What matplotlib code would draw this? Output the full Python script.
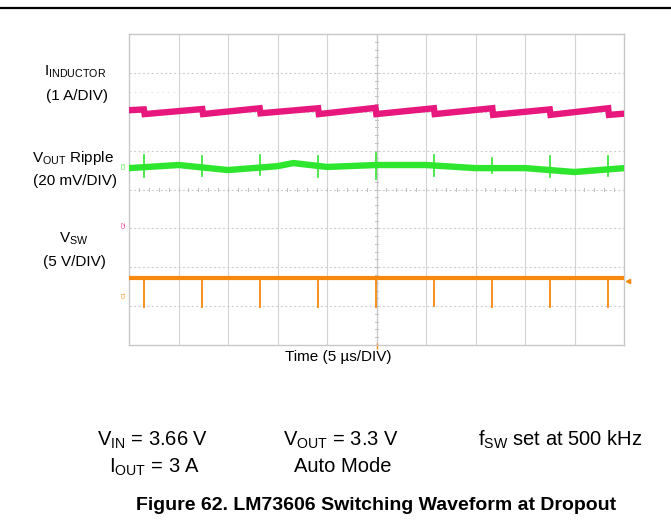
import numpy as np
import matplotlib
matplotlib.use('Agg')
import matplotlib.pyplot as plt

plt.rcParams['font.family'] = ['Liberation Sans', 'DejaVu Sans']
plt.rcParams['mathtext.fontset'] = 'custom'
plt.rcParams['mathtext.rm'] = 'Liberation Sans'
plt.rcParams['mathtext.it'] = 'Liberation Sans'
plt.rcParams['mathtext.bf'] = 'Liberation Sans:bold'

# time axis in us (5 us/div, 10 div), vertical in divisions (8 div)
switch_t = [1.5, 7.4, 13.2, 19.1, 24.9, 30.8, 36.7, 42.5, 48.4]

# inductor current (pink), level just before / after each switching edge
pink_start = 6.04
pink_before = [6.06, 6.07, 6.09, 6.09, 6.10, 6.09, 6.09, 6.06, 6.09]
pink_after = [5.94, 5.94, 5.96, 5.94, 5.94, 5.94, 5.92, 5.92, 5.92]
pink_end = 5.95

# output ripple (green)
green_t = [0, 5, 10, 15, 16.6, 20, 25, 30, 35, 40, 45, 50]
green_v = [4.55, 4.63, 4.50, 4.60, 4.68, 4.58, 4.63, 4.63, 4.55, 4.55, 4.45, 4.55]
green_spike_top = [4.88, 4.86, 4.88, 4.85, 4.93, 4.90, 4.80, 4.86, 4.85]
green_spike_bot = [4.32, 4.35, 4.38, 4.32, 4.28, 4.35, 4.42, 4.32, 4.36]

# switch node (orange)
vsw_level = 1.72
vsw_spike_bot = [0.98, 0.99, 0.98, 0.99, 0.97, 1.00, 0.99, 0.98, 0.99]

pink = '#E8177D'
green = '#2EE62E'
orange = '#F7880E'
W, H = 671, 529

fig = plt.figure(figsize=(W / 100, H / 100), dpi=100)
ax = fig.add_axes([129 / W, 1 - 345 / H, 495 / W, 311 / H])
ax.set_xlim(0, 50)
ax.set_ylim(0, 8)
ax.set_xticks([])
ax.set_yticks([])
for s in ax.spines.values():
    s.set_color('#c8c8c8')
    s.set_linewidth(1.0)

# graticule
for x in range(5, 50, 5):
    ax.axvline(x, color='#d4d4d4', lw=0.8, zorder=1)
for y in range(1, 8):
    ax.axhline(y, color='#d0d0d0', lw=0.8, ls=(0, (2, 2)), zorder=1)
ax.axhline(6.51, color='#dddddd', lw=0.8, ls=(0, (1, 4)), zorder=1)
for x in np.arange(0, 50.01, 1.0):
    ax.plot([x, x], [3.95, 4.05], color='#c0c0c0', lw=0.7, zorder=1)
for y in np.arange(0, 8.01, 0.2):
    ax.plot([24.8, 25.2], [y, y], color='#c0c0c0', lw=0.7, zorder=1)
ax.axvline(25, color='#c8c8c8', lw=0.9, zorder=1)

# inductor current
px = [0]
py = [pink_start]
for t, b, a in zip(switch_t, pink_before, pink_after):
    px += [t, t + 0.08]
    py += [b, a]
px.append(50)
py.append(pink_end)
ax.plot(px, py, color=pink, lw=4.6, solid_joinstyle='miter', zorder=3)

# output ripple
ax.plot(green_t, green_v, color=green, lw=4.6, zorder=3)
for t, top, bot in zip(switch_t, green_spike_top, green_spike_bot):
    ax.plot([t, t], [bot, top], color=green, lw=1.2, zorder=3)

# switch node
ax.plot([0, 50], [vsw_level, vsw_level], color=orange, lw=3.0, zorder=3)
for t, bot in zip(switch_t, vsw_spike_bot):
    ax.plot([t, t], [bot, vsw_level], color=orange, lw=1.3, zorder=3)

# channel markers
ax.text(-0.45, 4.62, 'C3', color=green, fontsize=4, rotation=90, ha='center', va='center', clip_on=False)
ax.text(-0.45, 3.09, 'C2', color=pink, fontsize=4, rotation=90, ha='center', va='center', clip_on=False)
ax.text(-0.45, 1.29, 'C1', color=orange, fontsize=4, rotation=90, ha='center', va='center', clip_on=False)
ax.plot([50.4], [1.65], marker='<', color=orange, ms=3, clip_on=False)
ax.plot([25], [-0.03], marker='|', color=orange, ms=5, clip_on=False)

# channel labels
def ft(x, y, s, **kw):
    fig.text(x / W, 1 - y / H, s, **kw)

ft(75, 72, r'I$_{\mathrm{INDUCTOR}}$', fontsize=11, ha='center', va='center')
ft(77, 96, '(1 A/DIV)', fontsize=11, ha='center', va='center')
ft(73, 158, r'V$_{\mathrm{OUT}}$ Ripple', fontsize=11, ha='center', va='center')
ft(75, 181, '(20 mV/DIV)', fontsize=11, ha='center', va='center')
ft(74, 239, r'V$_{\mathrm{SW}}$', fontsize=11, ha='center', va='center')
ft(74, 262, '(5 V/DIV)', fontsize=11, ha='center', va='center')
ft(338, 357, 'Time (5 µs/DIV)', fontsize=11, ha='center', va='center')

# test conditions
ft(97, 440, r'V$_{\mathrm{IN}}$ = 3.66 V', fontsize=14.5, ha='left', va='center')
ft(283, 440, r'V$_{\mathrm{OUT}}$ = 3.3 V', fontsize=14.5, ha='left', va='center')
ft(478, 440, r'f$_{\mathrm{SW}}$ set at 500 kHz', fontsize=14.5, ha='left', va='center')
ft(200, 467, r'I$_{\mathrm{OUT}}$ = 3 A', fontsize=14.5, ha='right', va='center')
ft(392, 467, 'Auto Mode', fontsize=14.5, ha='right', va='center')

ft(376, 506, 'Figure 62. LM73606 Switching Waveform at Dropout', fontsize=14,
   fontweight='bold', ha='center', va='center')

fig.add_artist(plt.Line2D([0, 1], [1 - 8 / H, 1 - 8 / H], color='black', lw=1.6))

fig.savefig('out.png', dpi=100)
